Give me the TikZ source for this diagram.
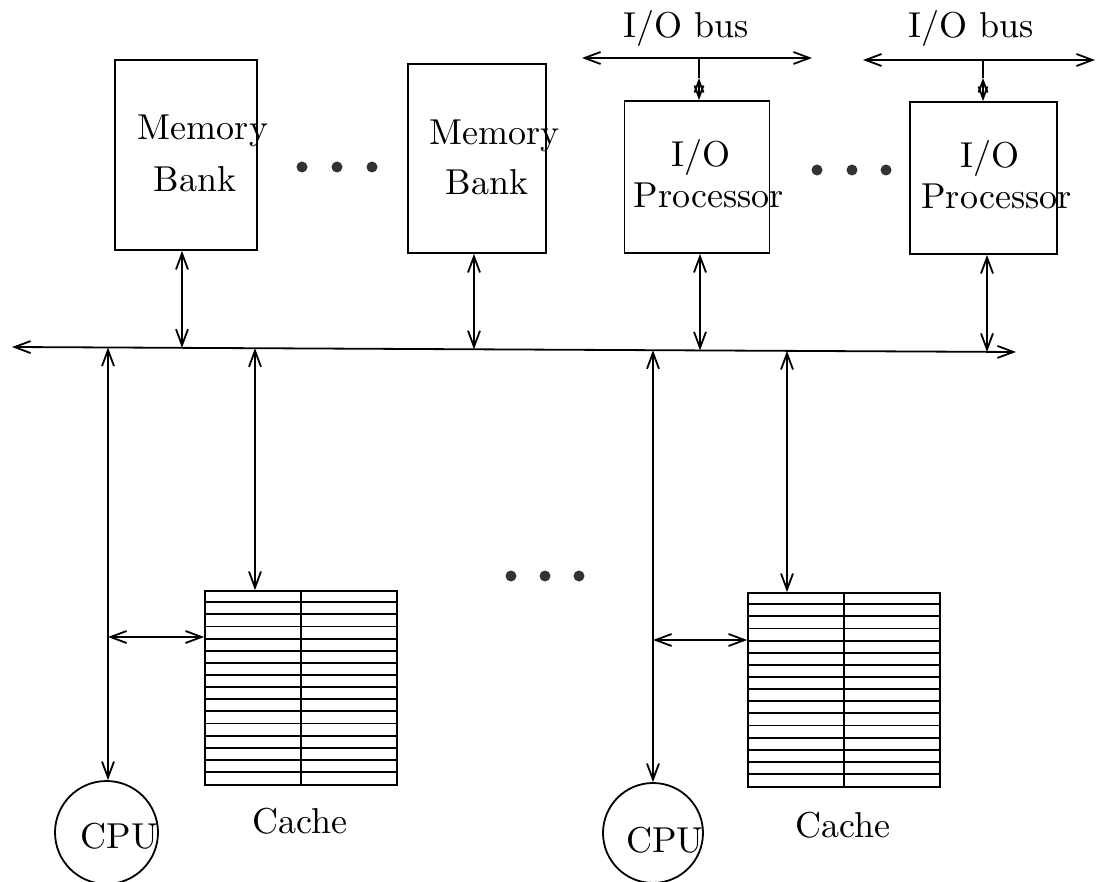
\documentclass[tikz,border=0pt]{standalone}
\usepackage{fontspec}
\setmainfont{lmroman10-regular.otf}
\usetikzlibrary{arrows.meta,calc}
\begin{document}
\begin{tikzpicture}[x=1pt,y=-1pt,line width=1.8pt,
  box/.style={draw,rectangle,inner sep=0pt},
  lbl/.style={anchor=base,inner sep=0pt,font=\fontsize{36}{40}\selectfont},
  dbl/.style={{Straight Barb[length=16pt,width=12pt]}-{Straight Barb[length=16pt,width=12pt]}},
  small/.style={{Straight Barb[length=12pt,width=9pt]}-{Straight Barb[length=12pt,width=9pt]}},
  dotnode/.style={circle,fill=black!80,draw=none,minimum size=11pt,inner sep=0pt},
  cpunode/.style={draw,circle,inner sep=0pt},
  cachebox/.style={draw,rectangle,inner sep=0pt,minimum width=192pt,minimum height=194pt}]
\useasboundingbox (0,0) rectangle (1098,882);

% top boxes
\node[box,minimum width=142pt,minimum height=190pt] (mb1) at (186,155) {};
\node[box,minimum width=138pt,minimum height=189pt] (mb2) at (477,158.5) {};
\node[box,minimum width=145pt,minimum height=152pt] (iop1) at (697,177) {};
\node[box,minimum width=147pt,minimum height=152pt] (iop2) at (983.5,178) {};

\node[lbl] (mb1a) at (203,140) {Memory};
\node[lbl] (mb1b) at (195,192) {Bank};
\node[lbl] (mb2a) at (494.5,145) {Memory};
\node[lbl] (mb2b) at (487,195) {Bank};
\node[lbl] (iop1a) at (701,167) {I/O};
\node[lbl] (iop1b) at (709,208) {Processor};
\node[lbl] (iop2a) at (989.5,168) {I/O};
\node[lbl] (iop2b) at (996.5,209) {Processor};

% dots
\node[dotnode] (d1) at (302,167) {};
\node[dotnode] (d2) at (337,167) {};
\node[dotnode] (d3) at (372,167) {};
\node[dotnode] (d4) at (817,170) {};
\node[dotnode] (d5) at (852,170) {};
\node[dotnode] (d6) at (886,170) {};
\node[dotnode] (d7) at (511,576) {};
\node[dotnode] (d8) at (545,576) {};
\node[dotnode] (d9) at (579,576) {};

% I/O buses
\node[lbl] (tb1) at (686,38) {I/O bus};
\node[lbl] (tb2) at (971,38) {I/O bus};
\coordinate (ioL1) at (582,58);
\coordinate (ioR1) at (812,58);
\coordinate (ioL2) at (863,60);
\coordinate (ioR2) at (1095,60);
\draw[dbl] (ioL1) -- (ioR1);
\draw[dbl] (ioL2) -- (ioR2);
\coordinate (s1) at (699,58);
\coordinate (s2) at (983,60);
\draw (s1) -- ++(0,20) coordinate (s1b);
\draw[small] (s1b) -- (s1b |- iop1.north);
\draw (s2) -- ++(0,18) coordinate (s2b);
\draw[small] (s2b) -- (s2b |- iop2.north);

% main bus
\coordinate (busL) at (12,347);
\coordinate (busR) at (1016,352);
\draw[dbl] (busL) -- (busR);

\coordinate (pm1) at (182,347.8);
\coordinate (pm2) at (474,349.3);
\coordinate (pi1) at (700,350.4);
\coordinate (pi2) at (987,352);
\draw[dbl] (pm1 |- mb1.south) -- (pm1);
\draw[dbl] (pm2 |- mb2.south) -- (pm2);
\draw[dbl] (pi1 |- iop1.south) -- (pi1);
\draw[dbl] (pi2 |- iop2.south) -- (pi2);

% caches
\node[cachebox] (c1) at (301,688) {};
\node[cachebox] (c2) at (844,690) {};
\foreach \i in {1,...,15}{
  \draw ([yshift=-\i*12.125pt]c1.north west) -- ([yshift=-\i*12.125pt]c1.north east);
  \draw ([yshift=-\i*12.125pt]c2.north west) -- ([yshift=-\i*12.125pt]c2.north east);
}
\draw (c1.north) -- (c1.south);
\draw (c2.north) -- (c2.south);
\node[lbl] (cl1) at (300,833) {Cache};
\node[lbl] (cl2) at (843,837) {Cache};

% CPUs
\node[cpunode,minimum size=103pt] (cpu1) at (106.5,832.5) {};
\node[cpunode,minimum size=100pt] (cpu2) at (653,833) {};
\node[lbl] (cpu1t) at (119.5,848) {CPU};
\node[lbl] (cpu2t) at (665,852) {CPU};

\coordinate (pu1) at (108,347.5);
\coordinate (pc1) at (255,348.2);
\coordinate (pu2) at (653,350.2);
\coordinate (pc2) at (787,350.9);
\draw[dbl] (pu1) -- (pu1 |- cpu1.north);
\draw[dbl] (pc1) -- (pc1 |- c1.north);
\draw[dbl] (pu2) -- (pu2 |- cpu2.north);
\draw[dbl] (pc2) -- (pc2 |- c2.north);

\coordinate (h1) at (108,637);
\coordinate (h2) at (653,640);
\draw[dbl] (h1) -- (h1 -| c1.west);
\draw[dbl] (h2) -- (h2 -| c2.west);
\end{tikzpicture}
\end{document}
